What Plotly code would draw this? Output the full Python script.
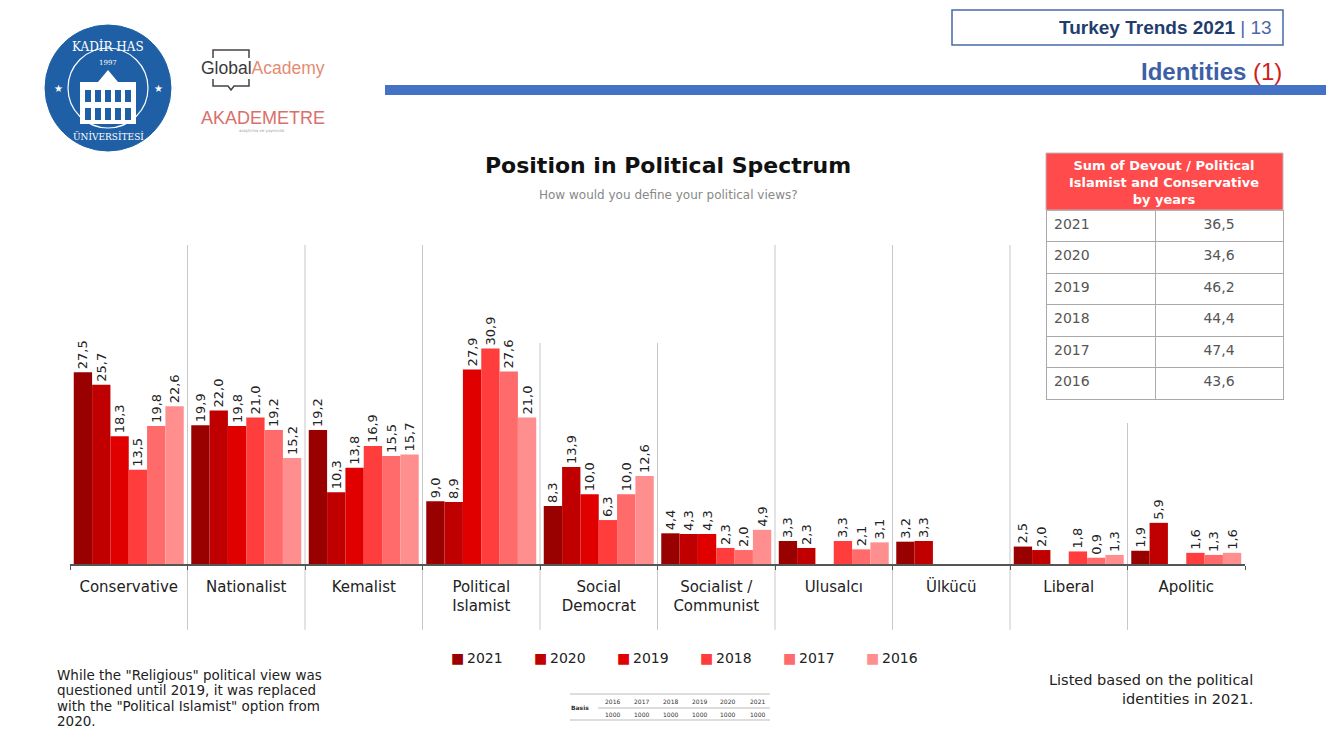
import plotly.graph_objects as go

# survey data (percent)
categories = ["Conservative", "Nationalist", "Kemalist", "Political<br>Islamist", "Social<br>Democrat",
              "Socialist /<br>Communist", "Ulusalcı", "Ülkücü", "Liberal", "Apolitic"]
years = ["2021", "2020", "2019", "2018", "2017", "2016"]
v2021 = [27.5, 19.9, 19.2, 9.0, 8.3, 4.4, 3.3, 3.2, 2.5, 1.9]
v2020 = [25.7, 22.0, 10.3, 8.9, 13.9, 4.3, 2.3, 3.3, 2.0, 5.9]
v2019 = [18.3, 19.8, 13.8, 27.9, 10.0, 4.3, None, None, None, None]
v2018 = [13.5, 21.0, 16.9, 30.9, 6.3, 2.3, 3.3, None, 1.8, 1.6]
v2017 = [19.8, 19.2, 15.5, 27.6, 10.0, 2.0, 2.1, None, 0.9, 1.3]
v2016 = [22.6, 15.2, 15.7, 21.0, 12.6, 4.9, 3.1, None, 1.3, 1.6]
series = [v2021, v2020, v2019, v2018, v2017, v2016]
colors = ["#990000", "#c00000", "#e00000", "#ff3d3d", "#ff6a6a", "#ff8f8f"]

# side table: sum of devout / political islamist and conservative
sum_years = ["2021", "2020", "2019", "2018", "2017", "2016"]
sum_values = [36.5, 34.6, 46.2, 44.4, 47.4, 43.6]

# basis table
basis_years = ["2016", "2017", "2018", "2019", "2020", "2021"]
basis_n = ["1000", "1000", "1000", "1000", "1000", "1000"]

note_lines = ['While the "Religious" political view was', "questioned until 2019, it was replaced",
              'with the "Political Islamist" option from', "2020."]

# page body adds an 8px margin, so the figure is drawn 8px in from the window edge
OFF = 8
W, H = 1334 - 2 * OFF, 750 - 2 * OFF
FONT = "DejaVu Sans"


def fx(px):
    return (px - OFF) / W


def fy(py):
    return 1 - (py - OFF) / H


fig = go.Figure()

for yr, vals, col in zip(years, series, colors):
    fig.add_trace(go.Bar(
        x=categories, y=vals, name=yr, marker=dict(color=col, line=dict(width=0)),
        texttemplate="%{y:.1f}", textposition="outside", textangle=-90, constraintext="none",
        textfont=dict(family=FONT, size=13, color="#222"), cliponaxis=False,
        showlegend=False,
    ))

# the red title spans both columns, so it is drawn separately; the first year row sits in the table header slot
sum_text = [f"{v:.1f}".replace(".", ",") for v in sum_values]
row_font = dict(family=FONT, size=14, color="#555")
fig.add_trace(go.Table(
    domain=dict(x=[fx(1046), fx(1283)], y=[fy(400), fy(210)]),
    columnwidth=[109, 128],
    header=dict(values=[sum_years[0], sum_text[0]], fill_color="white", line_color="#aaa", height=31.5,
                font=row_font, align=["left", "center"]),
    cells=dict(values=[sum_years[1:], sum_text[1:]], fill_color="white", line_color="#aaa", height=31.5,
               font=row_font, align=["left", "center"]),
))

shapes = []
# category separators
sep_tops = [245, 245, 245, 343, 343, 245, 245, 245, 423]
for i, top in enumerate(sep_tops):
    shapes.append(dict(type="line", xref="x", yref="paper", x0=i + 0.5, x1=i + 0.5,
                       y0=fy(630), y1=fy(top), line=dict(color="#c8c8c8", width=1), layer="below"))

# side table header
shapes.append(dict(type="rect", xref="paper", yref="paper", x0=fx(1046), x1=fx(1283), y0=fy(210), y1=fy(153),
                   fillcolor="#ff4b4b", line=dict(color="#bbb", width=1)))

# header box and blue band
shapes.append(dict(type="rect", xref="paper", yref="paper", x0=fx(952), x1=fx(1283), y0=fy(45), y1=fy(10),
                   line=dict(color="#4a6aa8", width=1.5)))
shapes.append(dict(type="rect", xref="paper", yref="paper", x0=fx(385), x1=fx(1334), y0=fy(95), y1=fy(85),
                   fillcolor="#4472c4", line=dict(width=0)))

# Kadir Has seal
shapes.append(dict(type="circle", xref="paper", yref="paper", x0=fx(45), x1=fx(171), y0=fy(151), y1=fy(25),
                   fillcolor="#1f5fa6", line=dict(color="#1f5fa6", width=1)))
shapes.append(dict(type="circle", xref="paper", yref="paper", x0=fx(68), x1=fx(148), y0=fy(128), y1=fy(48),
                   line=dict(color="white", width=1.2)))
shapes.append(dict(type="rect", xref="paper", yref="paper", x0=fx(80), x1=fx(136), y0=fy(124), y1=fy(82),
                   fillcolor="white", line=dict(width=0)))
shapes.append(dict(type="path", xref="paper", yref="paper",
                   path=f"M {fx(98)} {fy(82)} L {fx(108)} {fy(70)} L {fx(118)} {fy(82)} Z",
                   fillcolor="white", line=dict(width=0)))
for wx in [85, 95, 105, 115, 125]:
    for wy in [(90, 102), (108, 120)]:
        shapes.append(dict(type="rect", xref="paper", yref="paper", x0=fx(wx), x1=fx(wx + 6),
                           y0=fy(wy[1]), y1=fy(wy[0]), fillcolor="#1f5fa6", line=dict(width=0)))

# Global Academy bracket
shapes.append(dict(type="path", xref="paper", yref="paper",
                   path=f"M {fx(213)} {fy(58)} L {fx(213)} {fy(50)} L {fx(249)} {fy(50)} L {fx(249)} {fy(58)}",
                   line=dict(color="#444", width=1.5)))
shapes.append(dict(type="path", xref="paper", yref="paper",
                   path=f"M {fx(213)} {fy(79)} L {fx(213)} {fy(86)} L {fx(228)} {fy(86)} L {fx(231)} {fy(90)}"
                        f" L {fx(234)} {fy(86)} L {fx(249)} {fy(86)} L {fx(249)} {fy(79)}",
                   line=dict(color="#444", width=1.5)))

# basis table lines
for ly, lx0 in [(694, 570), (708, 598), (720, 570)]:
    shapes.append(dict(type="line", xref="paper", yref="paper", x0=fx(lx0), x1=fx(770), y0=fy(ly), y1=fy(ly),
                       line=dict(color="#bbb", width=1)))

ann = []


def note(x, y, text, size=12, color="#222", xa="left", ya="middle", align="left", family=FONT):
    ann.append(dict(x=fx(x), y=fy(y), xref="paper", yref="paper", text=text, showarrow=False,
                    xanchor=xa, yanchor=ya, align=align, font=dict(family=family, size=size, color=color)))


note(668, 165, "<b>Position in Political Spectrum</b>", size=22, color="#111", xa="center")
note(668, 195, "How would you define your political views?", size=12, color="#888", xa="center")
note(1274, 28, "<b>Turkey Trends 2021</b> <span style='color:#4a6aa8'>| 13</span>", size=19,
     color="#1f3d6e", xa="right", family="Liberation Sans")
note(1284, 72, "<b>Identities</b> <span style='color:#d02020'>(1)</span>", size=24, color="#3d5fa5",
     xa="right", family="Liberation Sans")
note(1164, 182, "<b>Sum of Devout / Political<br>Islamist and Conservative<br>by years</b>", size=13,
     color="white", xa="center", align="center")

# logos
note(108, 47, "KADİR HAS", size=12, color="white", xa="center", family="DejaVu Serif")
note(108, 63, "1997", size=7, color="white", xa="center", family="DejaVu Serif")
note(108, 136, "ÜNİVERSİTESİ", size=9, color="white", xa="center", family="DejaVu Serif")
note(58, 88, "★", size=10, color="white", xa="center")
note(158, 88, "★", size=10, color="white", xa="center")
note(199, 68, "Global<span style='color:#e58b73'>Academy</span>", size=17.5, color="#3a3a3a",
     family="Liberation Sans")
note(199, 118, "AKADEMETRE", size=18, color="#d9706b", family="Liberation Sans")
note(262, 131, "araştırma ve yayıncılık", size=4, color="#999", xa="center")

# legend
for i, (yr, col) in enumerate(zip(years, colors)):
    note(449 + i * 83, 658, f"<span style='color:{col}'>■</span>\u2009{yr}", size=14, color="#222")

# notes
for i, line in enumerate(note_lines):
    note(55, 675 + i * 15.4, line, size=13.5)
note(1255, 670, "Listed based on the political<br>identities in 2021.", size=14.5, xa="right", ya="top",
     align="right")

# basis table text
note(580, 707, "<b>Basis</b>", size=6, color="#333", xa="center")
for i, (yr, n) in enumerate(zip(basis_years, basis_n)):
    note(612 + i * 29, 701, yr, size=6, color="#333", xa="center")
    note(612 + i * 29, 714, n, size=6, color="#333", xa="center")

fig.update_layout(
    width=W, height=H, margin=dict(l=0, r=0, t=0, b=0),
    paper_bgcolor="white", plot_bgcolor="white",
    separators=",.", barmode="group", bargap=0.064, bargroupgap=0,
    font=dict(family=FONT, size=13, color="#222"),
    xaxis=dict(domain=[fx(70), fx(1245)], range=[-0.5, 9.5], showline=True, linecolor="#555",
               linewidth=1.5, ticks="outside", tickson="boundaries", ticklen=4, tickcolor="#555",
               ticklabelstandoff=8, showgrid=False, tickfont=dict(family=FONT, size=15, color="#222")),
    yaxis=dict(domain=[fy(564), fy(285)], range=[0, 40], visible=False, showgrid=False),
    shapes=shapes, annotations=ann,
)

fig.write_html("out.html")
